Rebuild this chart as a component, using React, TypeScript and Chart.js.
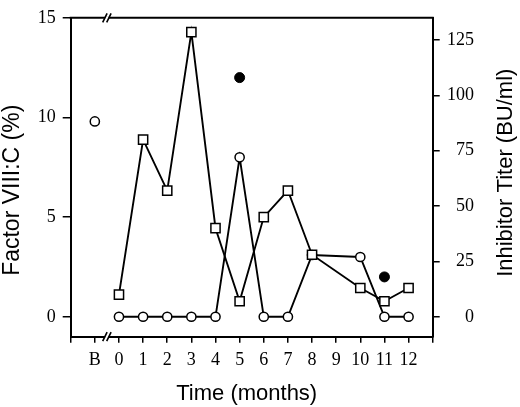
import React, { useEffect, useRef } from "react";
import { Chart, registerables } from "chart.js";

Chart.register(...registerables);

// ---- data ----
const factorMonths = [0, 1, 2, 3, 4, 5, 6, 7, 8, 10, 11, 12];
const factorVIII = [0, 0, 0, 0, 0, 8, 0, 0, 3.1, 3, 0, 0];

const baselineMonth = [-1];
const baselineFactor = [9.8];

const titerMonths = [0, 1, 2, 3, 4, 5, 6, 7, 8, 10, 11, 12];
const inhibitorTiter = [10, 80, 57, 128.5, 40, 7, 45, 57, 28, 13, 7, 13];

const filledMonths = [5, 11];
const filledFactor = [12, 2];

const xTickValues = [-2, -1, 0, 1, 2, 3, 4, 5, 6, 7, 8, 9, 10, 11, 12, 13];
const xTickLabels = ["", "B", "0", "1", "2", "3", "4", "5", "6", "7", "8", "9", "10", "11", "12", ""];
const leftTicks = [0, 5, 10, 15];
const rightTicks = [0, 25, 50, 75, 100, 125];

const xTitle = "Time (months)";
const leftTitle = "Factor VIII:C (%)";
const rightTitle = "Inhibitor Titer (BU/ml)";

const SERIF = "'Liberation Serif', 'Times New Roman', serif";
const SANS = "'Liberation Sans', Arial, sans-serif";

const toPoints = (xs: number[], ys: number[]) => xs.map((x, i) => ({ x, y: ys[i] }));

const decorPlugin = {
  id: "decor",
  afterDraw(chart: any) {
    const { ctx, chartArea, scales } = chart;
    const { left, right, top, bottom } = chartArea;
    ctx.save();
    // top frame line
    ctx.strokeStyle = "#000";
    ctx.lineWidth = 2;
    ctx.beginPath();
    ctx.moveTo(left - 1, top);
    ctx.lineTo(right + 1, top);
    ctx.stroke();
    // axis breaks
    const bx = scales.x.getPixelForValue(-0.5);
    for (const y of [top, bottom]) {
      ctx.fillStyle = "#fff";
      ctx.fillRect(bx - 1.8, y - 1.5, 3.6, 3);
      ctx.lineWidth = 1.6;
      ctx.beginPath();
      for (const dx of [-2, 2]) {
        ctx.moveTo(bx + dx - 2.2, y + 4.5);
        ctx.lineTo(bx + dx + 2.2, y - 4.5);
      }
      ctx.stroke();
    }
    // axis titles
    ctx.fillStyle = "#000";
    ctx.textBaseline = "alphabetic";
    ctx.textAlign = "center";
    ctx.font = `22px ${SANS}`;
    ctx.fillText(xTitle, (left + right) / 2 - 5, chart.height - 7);

    ctx.save();
    ctx.font = `23px ${SANS}`;
    ctx.translate(18.5, (top + bottom) / 2 + 13);
    ctx.rotate(-Math.PI / 2);
    ctx.fillText(leftTitle, 0, 0);
    ctx.restore();

    ctx.save();
    ctx.font = `22px ${SANS}`;
    ctx.translate(chart.width - 8.5, (top + bottom) / 2 - 4.5);
    ctx.rotate(-Math.PI / 2);
    ctx.fillText(rightTitle, 0, 0);
    ctx.restore();

    ctx.restore();
  },
};

export default function App() {
  const ref = useRef<HTMLCanvasElement>(null);

  useEffect(() => {
    if (!ref.current) return;
    const tickFont = { family: SERIF, size: 18 };
    const chart = new Chart(ref.current, {
      type: "line",
      data: {
        datasets: [
          {
            label: "Inhibitor titer",
            data: toPoints(titerMonths, inhibitorTiter),
            yAxisID: "y2",
            borderColor: "#000",
            borderWidth: 1.9,
            tension: 0,
            pointStyle: "rect",
            pointRadius: 6.5,
            pointBorderWidth: 1.5,
            pointBackgroundColor: "#fff",
            pointBorderColor: "#000",
            order: 0,
          },
          {
            label: "Factor VIII:C",
            data: toPoints(factorMonths, factorVIII),
            yAxisID: "y",
            borderColor: "#000",
            borderWidth: 1.9,
            tension: 0,
            pointStyle: "circle",
            pointRadius: 4.6,
            pointBorderWidth: 1.5,
            pointBackgroundColor: "#fff",
            pointBorderColor: "#000",
            order: 1,
          },
          {
            label: "Baseline",
            data: toPoints(baselineMonth, baselineFactor),
            yAxisID: "y",
            showLine: false,
            pointStyle: "circle",
            pointRadius: 4.6,
            pointBorderWidth: 1.5,
            pointBackgroundColor: "#fff",
            pointBorderColor: "#000",
            order: 1,
          },
          {
            label: "Factor VIII:C (filled)",
            data: toPoints(filledMonths, filledFactor),
            yAxisID: "y",
            showLine: false,
            pointStyle: "circle",
            pointRadius: 5,
            pointBorderWidth: 1,
            pointBackgroundColor: "#000",
            pointBorderColor: "#000",
            order: 2,
          },
        ],
      },
      options: {
        responsive: false,
        animation: false,
        layout: { padding: { top: 7.3, left: 0, right: 46, bottom: 0 } },
        plugins: { legend: { display: false }, tooltip: { enabled: false } },
        scales: {
          x: {
            type: "linear",
            position: "bottom",
            min: -2,
            max: 13,
            afterFit: (s: any) => {
              s.height = 70.3;
            },
            afterBuildTicks: (s: any) => {
              s.ticks = xTickValues.map((v) => ({ value: v }));
            },
            ticks: {
              autoSkip: false,
              maxRotation: 0,
              color: "#000",
              font: tickFont,
              padding: 6.5,
              callback: (v: any) => {
                const i = xTickValues.indexOf(Number(v));
                return i >= 0 ? xTickLabels[i] : "";
              },
            },
            grid: {
              display: true,
              drawOnChartArea: false,
              drawTicks: true,
              tickLength: 6,
              color: "#000",
              lineWidth: 1.5,
            },
            border: { display: true, color: "#000", width: 2 },
          },
          y: {
            type: "linear",
            position: "left",
            min: -1,
            max: 15,
            afterFit: (s: any) => {
              s.width = 70.7;
            },
            afterBuildTicks: (s: any) => {
              s.ticks = leftTicks.map((v) => ({ value: v }));
            },
            ticks: { color: "#000", font: tickFont, padding: 7 },
            grid: {
              display: true,
              drawOnChartArea: false,
              drawTicks: true,
              tickLength: 8,
              color: "#000",
              lineWidth: 1.5,
            },
            border: { display: true, color: "#000", width: 2 },
          },
          y2: {
            type: "linear",
            position: "right",
            min: -9,
            max: 135,
            afterFit: (s: any) => {
              s.width = 41.3;
            },
            afterBuildTicks: (s: any) => {
              s.ticks = rightTicks.map((v) => ({ value: v }));
            },
            ticks: { color: "#000", font: tickFont, padding: 7, crossAlign: "far" },
            grid: {
              display: true,
              drawOnChartArea: false,
              drawTicks: true,
              tickLength: 7,
              color: "#000",
              lineWidth: 1.5,
            },
            border: { display: true, color: "#000", width: 2 },
          },
        },
      },
      plugins: [decorPlugin],
    } as any);
    return () => chart.destroy();
  }, []);

  return (
    <div style={{ position: "absolute", left: 0, top: 0, width: 520, height: 407, background: "#fff" }}>
      <canvas ref={ref} width={520} height={407} style={{ display: "block" }} />
    </div>
  );
}
